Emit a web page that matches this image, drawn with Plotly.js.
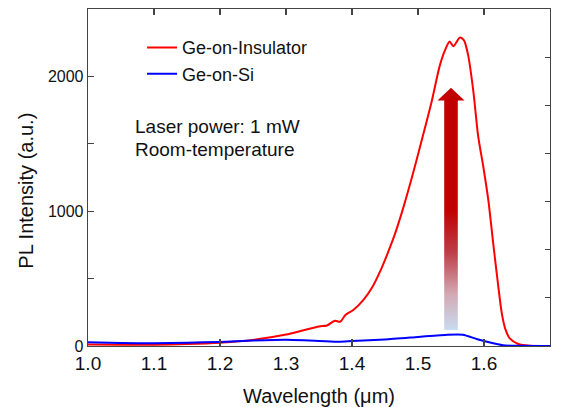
<!DOCTYPE html>
<html>
<head>
<meta charset="utf-8">
<script src="https://cdn.plot.ly/plotly-3.0.1.min.js"></script>
<style>
  html, body { margin: 0; padding: 0; background: #fff; }
  #chart { width: 563px; height: 407px; }
</style>
</head>
<body>
<div id="chart"></div>
<script>
// Photoluminescence spectra, wavelength in µm, intensity in a.u.
const goiWavelength = [1.00, 1.05, 1.10, 1.15, 1.20, 1.25, 1.30, 1.325, 1.35, 1.362, 1.374, 1.382,
  1.39, 1.402, 1.417, 1.43, 1.445, 1.455, 1.465, 1.478, 1.493, 1.508, 1.521, 1.533, 1.541, 1.548,
  1.5535, 1.5636, 1.5697, 1.576, 1.584, 1.591, 1.599, 1.6066, 1.614, 1.6217, 1.627, 1.632, 1.639,
  1.652, 1.67, 1.70];
const goiIntensity = [12, 10, 10, 15, 25, 45, 85, 115, 145, 152, 188, 180,
  230, 267, 341, 430, 580, 700, 830, 1030, 1290, 1570, 1820, 2080, 2195, 2259,
  2224, 2289, 2267, 2156, 1884, 1563, 1328, 1081, 760, 440, 242, 131, 57,
  15, 2, 0];

const gosWavelength = [1.00, 1.05, 1.10, 1.15, 1.20, 1.25, 1.30, 1.35, 1.38, 1.40, 1.45, 1.50,
  1.545, 1.568, 1.59, 1.614, 1.629, 1.65, 1.70];
const gosIntensity = [28, 22, 20, 25, 30, 40, 46, 38, 32, 37, 48, 67,
  84, 84, 50, 20, 5, 1, 0];

const seriesNames = ['Ge-on-Insulator', 'Ge-on-Si'];
const xTickValues = [1.0, 1.1, 1.2, 1.3, 1.4, 1.5, 1.6, 1.7];
const xBottomTicks = [1.2, 1.4, 1.6];
const yTickValues = [0, 500, 1000, 1500, 2000];
const yTickText = ['0', '', '1000', '', '2000'];

// Enhancement arrow drawn between the two spectra (axis units)
const arrowGeom = {
  xCenter: 1.5500, shaftHalf: 0.0103, headHalf: 0.0205,
  yBottom: 118, yHeadBase: 1822, yTip: 1916, ySolidFrom: 1007
};

const FONT = 'Arial, "Liberation Sans", sans-serif';
const AXIS_COLOR = '#444';
const TEXT_COLOR = '#111';

const a = arrowGeom;
const shaft = {
  x: [a.xCenter - a.shaftHalf, a.xCenter + a.shaftHalf, a.xCenter + a.shaftHalf, a.xCenter - a.shaftHalf, a.xCenter - a.shaftHalf],
  y: [a.yBottom, a.yBottom, a.yHeadBase + 5, a.yHeadBase + 5, a.yBottom],
  type: 'scatter', mode: 'lines', fill: 'toself',
  line: { width: 0, color: 'rgba(0,0,0,0)' },
  fillgradient: {
    type: 'vertical', start: a.yBottom, stop: a.ySolidFrom,
    colorscale: [[0, '#c8dcf0'], [0.3, '#d3a9b3'], [0.65, '#bd3d47'], [1, '#c00000']]
  },
  showlegend: false, hoverinfo: 'skip'
};
const head = {
  x: [a.xCenter - a.headHalf, a.xCenter + a.headHalf, a.xCenter, a.xCenter - a.headHalf],
  y: [a.yHeadBase, a.yHeadBase, a.yTip, a.yHeadBase],
  type: 'scatter', mode: 'lines', fill: 'toself',
  fillcolor: '#c00000', line: { width: 0, color: 'rgba(0,0,0,0)' },
  showlegend: false, hoverinfo: 'skip'
};

// Empty carriers so the frame axes (top / right / bottom minor ticks) get drawn
const frameTop = { x: [null], y: [null], xaxis: 'x2', yaxis: 'y2', type: 'scatter', mode: 'lines', showlegend: false, hoverinfo: 'skip' };
const frameBottom = { x: [null], y: [null], xaxis: 'x3', yaxis: 'y', type: 'scatter', mode: 'lines', showlegend: false, hoverinfo: 'skip' };

const traces = [
  {
    x: goiWavelength, y: goiIntensity, name: seriesNames[0],
    type: 'scatter', mode: 'lines',
    line: { color: '#ff0000', width: 2, shape: 'spline', smoothing: 0.8 }
  },
  {
    x: gosWavelength, y: gosIntensity, name: seriesNames[1],
    type: 'scatter', mode: 'lines',
    line: { color: '#0000ff', width: 2, shape: 'spline', smoothing: 0.6 }
  },
  shaft, head, frameTop, frameBottom
];

const layout = {
  width: 563, height: 407,
  margin: { l: 88, r: 13, t: 9, b: 61 },
  paper_bgcolor: '#fff', plot_bgcolor: '#fff',
  font: { family: FONT, color: TEXT_COLOR },
  showlegend: true,
  legend: {
    x: 0.117, xanchor: 'left', y: 0.94, yanchor: 'top',
    bgcolor: 'rgba(0,0,0,0)', font: { size: 18, family: FONT, color: TEXT_COLOR }
  },
  xaxis: {
    range: [1.0, 1.7], tickvals: xTickValues,
    ticktext: xTickValues.map(v => v.toFixed(1)),
    ticks: '', showgrid: false, zeroline: false,
    showline: true, linecolor: AXIS_COLOR, linewidth: 1.3,
    tickfont: { size: 19, family: FONT, color: TEXT_COLOR },
    title: { text: 'Wavelength (μm)', font: { size: 20, family: FONT, color: TEXT_COLOR }, standoff: 18 }
  },
  xaxis2: {
    overlaying: 'x', side: 'top', anchor: 'y2', range: [1.0, 1.7],
    tick0: 1.0, dtick: 0.1, ticks: 'inside', ticklen: 6, tickwidth: 1.2, tickcolor: AXIS_COLOR,
    showticklabels: false, showgrid: false, zeroline: false,
    showline: true, linecolor: AXIS_COLOR, linewidth: 1.3
  },
  xaxis3: {
    overlaying: 'x', side: 'bottom', anchor: 'y', range: [1.0, 1.7],
    tickvals: xBottomTicks, ticks: 'inside', ticklen: 7, tickwidth: 1.2, tickcolor: AXIS_COLOR,
    showticklabels: false, showgrid: false, zeroline: false, showline: false
  },
  yaxis: {
    range: [0, 2500], tickvals: yTickValues, ticktext: yTickText,
    ticks: 'inside', ticklen: 6, tickwidth: 1.2, tickcolor: AXIS_COLOR,
    showgrid: false, zeroline: false,
    showline: true, linecolor: AXIS_COLOR, linewidth: 1.3,
    tickfont: { size: 16, family: FONT, color: TEXT_COLOR }
  },
  yaxis2: {
    overlaying: 'y', side: 'right', anchor: 'x2', range: [0, 7],
    tick0: 0, dtick: 1, ticks: 'inside', ticklen: 5, tickwidth: 1.2, tickcolor: AXIS_COLOR,
    showticklabels: false, showgrid: false, zeroline: false,
    showline: true, linecolor: AXIS_COLOR, linewidth: 1.3
  },
  annotations: [
    {
      text: 'PL Intensity (a.u.)', textangle: -90,
      xref: 'paper', yref: 'paper', x: -0.136, y: 0.4614,
      xanchor: 'center', yanchor: 'middle', showarrow: false,
      font: { size: 20, family: FONT, color: TEXT_COLOR }
    },
    {
      text: 'Laser power: 1 mW',
      xref: 'paper', yref: 'paper', x: 0.098, y: 0.650,
      xanchor: 'left', yanchor: 'middle', showarrow: false,
      font: { size: 19, family: FONT, color: TEXT_COLOR }
    },
    {
      text: 'Room-temperature',
      xref: 'paper', yref: 'paper', x: 0.098, y: 0.583,
      xanchor: 'left', yanchor: 'middle', showarrow: false,
      font: { size: 19, family: FONT, color: TEXT_COLOR }
    }
  ]
};

Plotly.newPlot('chart', traces, layout, { staticPlot: true, displayModeBar: false });
</script>
</body>
</html>
